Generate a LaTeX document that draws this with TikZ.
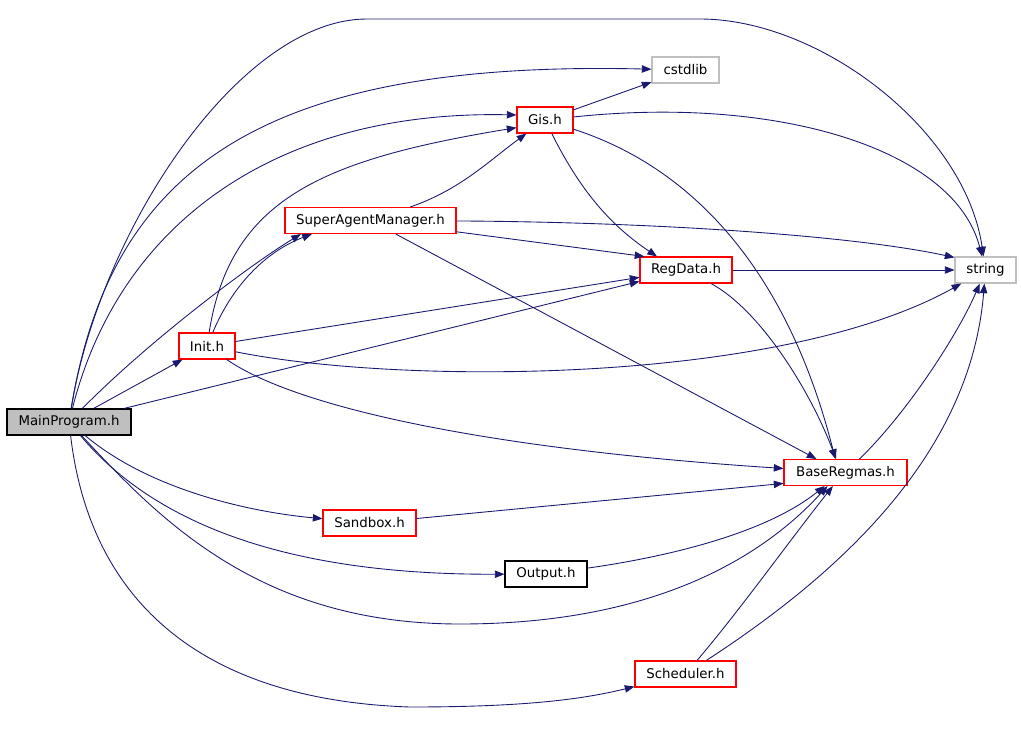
\documentclass[tikz,border=0pt]{standalone}
\usepackage{fontspec}
\setmainfont{DejaVu Sans}
\usepackage{tikz}
\usetikzlibrary{arrows.meta}
\definecolor{edgeblue}{HTML}{191970}
\definecolor{boxgray}{HTML}{BFBFBF}

\begin{document}
\begin{tikzpicture}[x=0.02cm, y=-0.02cm,
  file/.style={draw, rectangle, line width=0.6pt, minimum height=0.52cm, inner sep=0pt, font=\fontsize{7.6}{9}\selectfont},
  dep/.style={draw=edgeblue, line width=0.5pt, -{Triangle[length=5.5pt,width=4.2pt]}, edgeblue}]
\useasboundingbox (0,0) rectangle (1021,737);
\node [file, fill=boxgray, draw=black, minimum width=2.48cm] (main) at (69,422) {MainProgram.h};
\node [file, draw=red, minimum width=1.12cm] (init) at (207,346) {Init.h};
\node [file, draw=boxgray, minimum width=1.34cm] (cstdlib) at (685.5,70) {cstdlib};
\node [file, draw=red, minimum width=1.12cm] (gis) at (545,120) {Gis.h};
\node [file, draw=red, minimum width=3.42cm] (sam) at (370.5,220.5) {SuperAgentManager.h};
\node [file, draw=red, minimum width=1.84cm] (regdata) at (686,270) {RegData.h};
\node [file, draw=boxgray, minimum width=1.22cm] (string) at (985.5,270) {string};
\node [file, draw=red, minimum width=2.46cm] (base) at (845.5,472.5) {BaseRegmas.h};
\node [file, draw=red, minimum width=1.86cm] (sandbox) at (369.5,523) {Sandbox.h};
\node [file, draw=black, minimum width=1.64cm] (output) at (546,574) {Output.h};
\node [file, draw=red, minimum width=2.02cm] (sched) at (685.5,674) {Scheduler.h};
% MainProgram.h
\draw [dep] (main) .. controls (100,230) and (240,19) .. (367,19) -- (700,19) .. controls (820,19) and (965,130) .. (string);
\draw [dep] (main) .. controls (110,170) and (260,60) .. (cstdlib);
\draw [dep] (main) .. controls (120,220) and (280,110) .. (gis.170);
\draw [dep] (main) .. controls (150,340) and (250,265) .. (sam.191);
\path [dep] (main) edge (init);
\path [dep] (main) edge (regdata);
\draw [dep] (main) .. controls (150,490) and (250,512) .. (sandbox);
\draw [dep] (main) .. controls (160,530) and (300,575) .. (output);
\draw [dep] (main) .. controls (160,520) and (260,624) .. (460,624) .. controls (650,624) and (760,560) .. (base.217);
\draw [dep] (main) .. controls (90,600) and (200,700) .. (410,707) .. controls (520,707) and (580,700) .. (sched);
% Init.h
\draw [dep] (init) .. controls (230,200) and (320,160) .. (gis.195);
\draw [dep] (init) .. controls (235,280) and (270,250) .. (sam.193);
\path [dep] (init) edge (regdata);
\draw [dep] (init) .. controls (400,385) and (780,385) .. (string);
\draw [dep] (init) .. controls (300,410) and (500,450) .. (base);
% Gis.h
\path [dep] (gis) edge (cstdlib);
\draw [dep] (gis) .. controls (780,95) and (955,150) .. (string);
\draw [dep] (gis) .. controls (580,190) and (610,225) .. (regdata.155);
\draw [dep] (gis) .. controls (700,170) and (790,280) .. (base.127);
% SuperAgentManager.h
\draw [dep] (sam) .. controls (460,190) and (490,160) .. (gis);
\draw [dep] (sam) .. controls (650,222) and (850,235) .. (string.158);
\path [dep] (sam) edge (regdata.162);
\path [dep] (sam) edge (base.155);
% RegData.h
\path [dep] (regdata) edge (string);
\draw [dep] (regdata) .. controls (760,310) and (810,390) .. (base.125);
% BaseRegmas.h and the rest
\draw [dep] (base) .. controls (910,410) and (960,330) .. (string);
\path [dep] (sandbox) edge (base.190);
\draw [dep] (output) .. controls (680,555) and (770,530) .. (base.213);
\draw [dep] (sched) .. controls (740,610) and (790,540) .. (base.227);
\draw [dep] (sched) .. controls (830,580) and (970,460) .. (string);
\end{tikzpicture}
\end{document}
